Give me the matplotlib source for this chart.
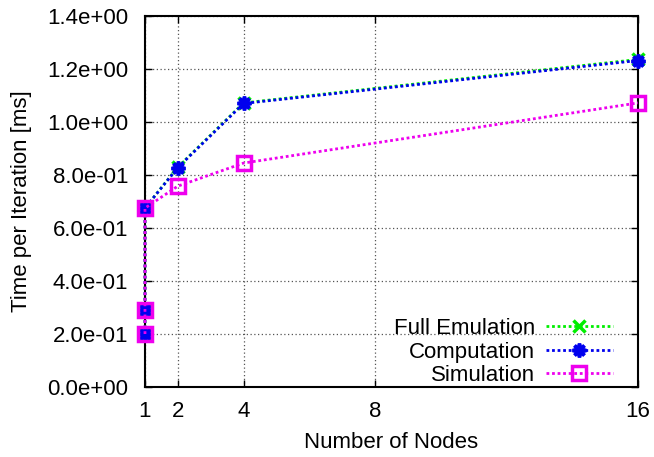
import matplotlib
matplotlib.use("Agg")
import matplotlib.pyplot as plt

plt.rcParams['font.family'] = ['Liberation Sans', 'DejaVu Sans']

nodes = [1, 1, 1, 2, 4, 16]
full_emulation = [0.20, 0.29, 0.675, 0.83, 1.072, 1.236]
computation = [0.20, 0.29, 0.675, 0.828, 1.070, 1.232]
simulation = [0.20, 0.29, 0.675, 0.758, 0.845, 1.072]

xticks = [1, 2, 4, 8, 16]
yticks = [0.0, 0.2, 0.4, 0.6, 0.8, 1.0, 1.2, 1.4]
ytick_labels = ["0.0e+00", "2.0e-01", "4.0e-01", "6.0e-01", "8.0e-01",
                "1.0e+00", "1.2e+00", "1.4e+00"]

FS = 16

fig = plt.figure(figsize=(6.54, 4.57), dpi=100)
ax = fig.add_axes([0.2217, 0.1532, 0.7538, 0.8118])

dot = (0, (1, 1))
ax.plot(nodes, full_emulation, color='#00ee00', lw=2, ls=dot,
        marker='x', ms=8, mew=2.5, label='Full Emulation', zorder=3, clip_on=False)
ax.plot(nodes, computation, color='#0000ee', lw=2, ls=dot,
        marker=(8, 2, 0), ms=10, mew=2.6, label='Computation', zorder=4, clip_on=False)
ax.plot(nodes, simulation, color='#ee00ee', lw=2, ls=dot,
        marker='s', ms=10, mew=2.5, mfc='none', label='Simulation', zorder=5, clip_on=False)

ax.set_xlim(1, 16)
ax.set_ylim(0, 1.4)
ax.set_xticks(xticks)
ax.set_xticklabels([str(v) for v in xticks])
ax.set_yticks(yticks)
ax.set_yticklabels(ytick_labels)
ax.tick_params(direction='in', top=True, right=True, labelsize=FS,
               length=5, width=1)
ax.tick_params(axis='y', pad=12)
ax.tick_params(axis='x', pad=10)
ax.grid(True, color='#555555', ls=(0, (1, 2)), lw=0.9)
for s in ax.spines.values():
    s.set_linewidth(1.5)

ax.set_xlabel('Number of Nodes', fontsize=FS, labelpad=7)
ax.set_ylabel('Time per Iteration [ms]', fontsize=FS, labelpad=11)

leg = ax.legend(loc='lower right', bbox_to_anchor=(0.958, -0.01),
                frameon=False, markerfirst=False,
                fontsize=FS, handlelength=3.0, labelspacing=0.12,
                borderaxespad=0.0, handletextpad=0.5, borderpad=0.2)
for t in leg.get_texts():
    t.set_ha('right')
leg._legend_box.align = 'right'

fig.savefig('out.png', dpi=100)
